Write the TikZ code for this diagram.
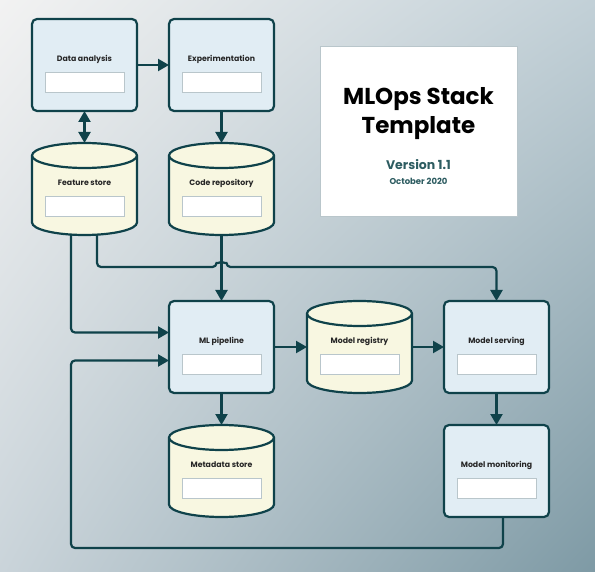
\documentclass[tikz,border=0pt]{standalone}
\usepackage{fontspec}
\setmainfont{Poppins}
\usepackage{tikz}
\usetikzlibrary{arrows.meta, positioning, shadings}

\definecolor{ink}{HTML}{0F424A}
\definecolor{boxfill}{HTML}{E1EDF4}
\definecolor{storefill}{HTML}{F8F7E1}
\definecolor{fieldline}{HTML}{B9C6CB}
\definecolor{teal}{HTML}{2D5C61}
\definecolor{bgA}{HTML}{F2F2F2}
\definecolor{bgB}{HTML}{C2D0D7}
\definecolor{bgC}{HTML}{CAD4DA}
\definecolor{bgD}{HTML}{7E9AA5}

\begin{document}
\begin{tikzpicture}[
    x=1pt, y=-1pt,
    node distance=32pt,
    stage/.style={draw=ink, line width=2.2pt, fill=boxfill, rounded corners=5pt,
        minimum width=105pt, minimum height=92pt, inner sep=0pt, outer sep=0pt},
    store/.style={minimum width=105pt, minimum height=92pt, inner sep=0pt, outer sep=0pt,
        append after command={\pgfextra{
          \draw[draw=ink, line width=2.2pt, fill=storefill]
            ([yshift=-12.5pt]\tikzlastnode.north west) -- ([yshift=12.5pt]\tikzlastnode.south west)
            arc[x radius=52.5pt, y radius=12.5pt, start angle=180, end angle=360]
            -- ([yshift=-12.5pt]\tikzlastnode.north east)
            arc[x radius=52.5pt, y radius=12.5pt, start angle=0, end angle=180]
            arc[x radius=52.5pt, y radius=12.5pt, start angle=180, end angle=360];
        }}},
    entry/.style={draw=fieldline, line width=0.8pt, fill=white,
        minimum width=79pt, minimum height=20pt, inner sep=0pt},
    stagename/.style={font=\fontsize{7.8}{9}\selectfont\bfseries, text=black!85},
    arrow/.style={-{Triangle[length=11pt,width=12pt]}, draw=ink, line width=2.2pt},
]

% background
\shade[upper left=bgA, upper right=bgB, lower left=bgC, lower right=bgD]
    (0,0) rectangle (595,572);

% stages and stores
\node[stage] (da) at (84.5,65) {};
\node[stage, right=of da] (ex) {};
\node[store, below=of da] (fs) {};
\node[store, below=of ex] (cr) {};
\node[stage, below=66pt of cr] (ml) {};
\node[store, below=of ml] (md) {};
\node[store, right=33pt of ml] (mr) {};
\node[stage, right=of mr] (ms) {};
\node[stage, below=of ms] (mm) {};

% names and empty fields
\foreach \n/\t in {da/Data analysis, ex/Experimentation, fs/Feature store,
    cr/Code repository, ml/ML pipeline, md/Metadata store, mr/Model registry,
    ms/Model serving, mm/Model monitoring} {
  \node[stagename] (\n-name) at ([yshift=6pt]\n.center) {\t};
  \node[entry] (\n-field) at ([yshift=-17pt]\n.center) {};
}

% title card
\node[draw=fieldline, line width=0.6pt, fill=white, minimum width=197pt,
    minimum height=170pt] (card) at (418.5,131) {};
\node[align=center, font=\fontsize{23}{29}\selectfont\bfseries] (title)
    at (418.5,114) {MLOps Stack\\Template};
\node[text=teal, font=\fontsize{12.5}{14}\selectfont\bfseries] (version)
    at (418.5,165) {Version 1.1};
\node[text=teal, font=\fontsize{8.5}{10}\selectfont\bfseries] (date)
    at (418.5,181.5) {October 2020};

% arrows
\draw[arrow] (da) -- (ex);
\draw[arrow, {Triangle[length=11pt,width=12pt]}-{Triangle[length=11pt,width=12pt]}] (da) -- (fs);
\draw[arrow] (ex) -- (cr);
\draw[arrow] (cr) -- (ml);
\draw[arrow] (ml) -- (md);
\draw[arrow] (ml) -- (mr);
\draw[arrow] (mr) -- (ms);
\draw[arrow] (ms) -- (mm);

% feature store to pipeline and serving
\draw[arrow, rounded corners=4pt] ([xshift=-13.5pt]fs.south) |- ([yshift=14.5pt]ml.west);
\coordinate (hop) at ([yshift=-32pt]cr.south);
\draw[arrow, rounded corners=4pt] ([xshift=12.5pt]fs.south) |- ([xshift=-5pt]hop)
    arc[start angle=180, end angle=0, radius=5pt] -| (ms.north);

% monitoring feeds back into the pipeline
\draw[arrow, rounded corners=4pt] ([xshift=6.5pt]mm.south) |- ([yshift=-31pt]md.south)
    -| ([xshift=-98pt,yshift=-13.5pt]ml.west) -- ([yshift=-13.5pt]ml.west);

\end{tikzpicture}
\end{document}
